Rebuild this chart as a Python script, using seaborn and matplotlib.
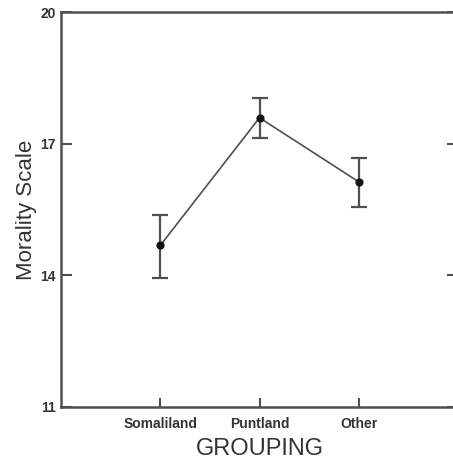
import matplotlib
matplotlib.use('Agg')
import matplotlib.pyplot as plt
import seaborn as sns
import pandas as pd

# Group means and error bar limits
groups = ['Somaliland', 'Puntland', 'Other']
means = [14.68, 17.59, 16.13]
upper = [15.37, 18.05, 16.67]
lower = [13.93, 17.12, 15.55]
yticks = [11, 14, 17, 20]

df = pd.DataFrame({'GROUPING': groups, 'Morality Scale': means})

sns.set_style('white')
plt.rcParams['font.family'] = ['Liberation Sans', 'DejaVu Sans']

fig = plt.figure(figsize=(4.53, 4.65), dpi=100)
ax = fig.add_axes([61 / 453, 58 / 465, 397 / 453, 395 / 465])

sns.pointplot(data=df, x='GROUPING', y='Morality Scale', errorbar=None,
              color='#505050', markers='o', linewidth=1.2, markersize=5,
              ax=ax)
for ln in ax.lines:
    ln.set_markerfacecolor('#111111')
    ln.set_markeredgecolor('#111111')

# error bars from the read limits, placed on the categorical positions
pos = range(len(groups))
ax.errorbar(pos, means,
            yerr=[[m - l for m, l in zip(means, lower)],
                  [u - m for m, u in zip(means, upper)]],
            fmt='none', ecolor='#505050', elinewidth=1.6, capsize=5.5,
            capthick=1.6, zorder=1)

ax.set_xlim(-1, 3)
ax.set_ylim(11, 20)
ax.set_yticks(yticks)
ax.set_yticklabels([str(t) for t in yticks], fontweight='bold', fontsize=10,
                   color='#333333')
ax.set_xticks(list(pos))
ax.set_xticklabels(groups, fontweight='bold', fontsize=10, color='#333333')

ax.tick_params(axis='y', direction='in', length=8, width=1.5, color='#505050',
               left=True, right=True, pad=4)
ax.tick_params(axis='x', direction='in', length=6.5, width=1.5, color='#505050',
               bottom=True, top=False, pad=7)

for s in ax.spines.values():
    s.set_color('#505050')
    s.set_linewidth(1.8)
ax.spines['right'].set_visible(False)

ax.set_xlabel('GROUPING', fontsize=17, color='#333333', labelpad=5)
ax.set_ylabel('Morality Scale', fontsize=16, color='#333333', labelpad=2)

fig.savefig('out.png', dpi=100, facecolor='white')
